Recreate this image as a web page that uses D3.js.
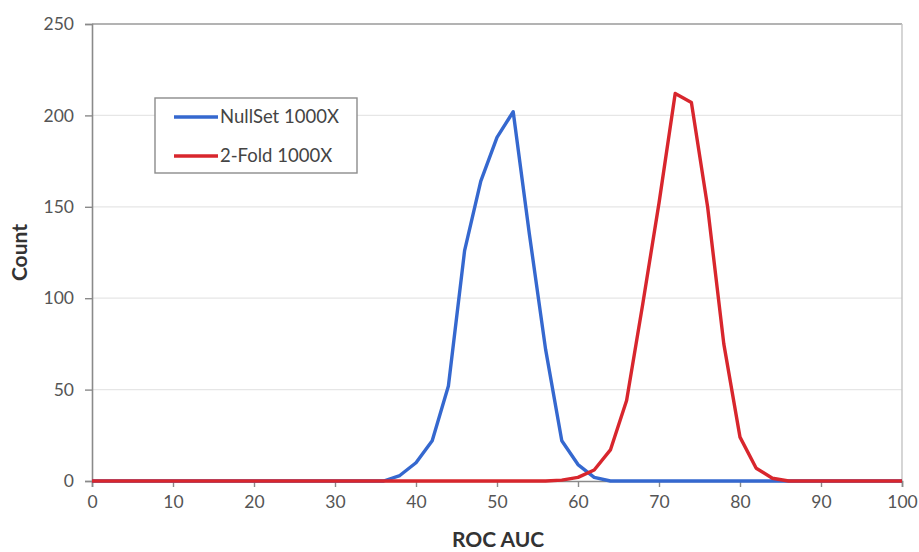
<!DOCTYPE html>
<html>
<head>
<meta charset="utf-8">
<script src="https://cdn.jsdelivr.net/npm/d3@7"></script>
<style>
  html, body { margin: 0; padding: 0; background: #fff; }
  svg { display: block; font-family: Lato, "Open Sans", sans-serif; }
</style>
</head>
<body>
<svg id="chart" width="919" height="552"></svg>
<script>
// ROC AUC bins (x values)
const rocAuc = [0,2,4,6,8,10,12,14,16,18,20,22,24,26,28,30,32,34,36,38,40,42,44,46,48,50,
                52,54,56,58,60,62,64,66,68,70,72,74,76,78,80,82,84,86,88,90,92,94,96,98,100];
// NullSet 1000X counts
const nullSet = [0,0,0,0,0,0,0,0,0,0,0,0,0,0,0,0,0,0,0,3,10,22,52,126,164,188,
                 202,135,72,22,9,2,0,0,0,0,0,0,0,0,0,0,0,0,0,0,0,0,0,0,0];
// 2-Fold 1000X counts
const twoFold = [0,0,0,0,0,0,0,0,0,0,0,0,0,0,0,0,0,0,0,0,0,0,0,0,0,0,
                 0,0,0,0.5,2,6,17,44,97,152,212,207,150,75,24,7,1.5,0,0,0,0,0,0,0,0];
const xTicks = [0,10,20,30,40,50,60,70,80,90,100];
const yTicks = [0,50,100,150,200,250];
const seriesNames = ["NullSet 1000X", "2-Fold 1000X"];
const seriesColors = ["#3568cf", "#d8262d"];

const svg = d3.select("#chart");
const L = 92, R = 902, T = 24, B = 481;

const x = d3.scaleLinear().domain([0, 100]).range([L, R]);
const y = d3.scaleLinear().domain([0, 250]).range([B, T]);

// gridlines
svg.append("g").selectAll("line")
  .data(yTicks.filter(d => d > 0 && d < 250))
  .join("line")
  .attr("x1", L).attr("x2", R)
  .attr("y1", d => y(d)).attr("y2", d => y(d))
  .attr("stroke", "#e6e6e6").attr("stroke-width", 1.2);

// plot border top and right
svg.append("line").attr("x1", L).attr("x2", R).attr("y1", y(250)).attr("y2", y(250))
  .attr("stroke", "#9a9a9a").attr("stroke-width", 1.6);
svg.append("line").attr("x1", R).attr("x2", R).attr("y1", T).attr("y2", B)
  .attr("stroke", "#c4c4c4").attr("stroke-width", 1.4);

// y axis
const yAxis = d3.axisLeft(y).tickValues(yTicks).tickSize(7).tickPadding(11);
const gy = svg.append("g").attr("transform", `translate(${L},0)`).call(yAxis);
gy.select(".domain").attr("stroke", "#8a8a8a").attr("stroke-width", 1.6);
gy.selectAll(".tick line").attr("stroke", "#8a8a8a").attr("stroke-width", 1.4);
gy.selectAll(".tick text").attr("font-size", 17.5).attr("fill", "#555")
  .attr("font-family", "Lato, sans-serif");

// x axis
const xAxis = d3.axisBottom(x).tickValues(xTicks).tickSize(6).tickPadding(9);
const gx = svg.append("g").attr("transform", `translate(0,${B})`).call(xAxis);
gx.select(".domain").attr("stroke", "#8a8a8a").attr("stroke-width", 1.6);
gx.selectAll(".tick line").attr("stroke", "#8a8a8a").attr("stroke-width", 1.4);
gx.selectAll(".tick text").attr("font-size", 17.5).attr("fill", "#555")
  .attr("font-family", "Lato, sans-serif");

// lines
const line = d3.line().x((d, i) => x(rocAuc[i])).y(d => y(d));
[nullSet, twoFold].forEach((s, k) => {
  svg.append("path").datum(s)
    .attr("d", line)
    .attr("fill", "none")
    .attr("stroke", seriesColors[k])
    .attr("stroke-width", 3.4)
    .attr("stroke-linejoin", "round");
});

// axis titles
svg.append("text").attr("x", 498).attr("y", 547)
  .attr("text-anchor", "middle").attr("font-size", 21).attr("font-weight", "bold")
  .attr("fill", "#333").text("ROC AUC");
svg.append("text").attr("transform", `translate(27,${(T + B) / 2}) rotate(-90)`)
  .attr("text-anchor", "middle").attr("font-size", 21).attr("font-weight", "bold")
  .attr("fill", "#333").text("Count");

// legend
const lg = svg.append("g");
lg.append("rect").attr("x", 155).attr("y", 98).attr("width", 202).attr("height", 75)
  .attr("fill", "#fff").attr("stroke", "#8c8c8c").attr("stroke-width", 1.4);
seriesNames.forEach((name, k) => {
  const yy = 117 + k * 39;
  lg.append("line").attr("x1", 174).attr("x2", 218).attr("y1", yy).attr("y2", yy)
    .attr("stroke", seriesColors[k]).attr("stroke-width", 3.4);
  lg.append("text").attr("x", 220).attr("y", yy).attr("dy", "0.35em")
    .attr("font-size", 18.5).attr("fill", "#444").text(name);
});
</script>
</body>
</html>
